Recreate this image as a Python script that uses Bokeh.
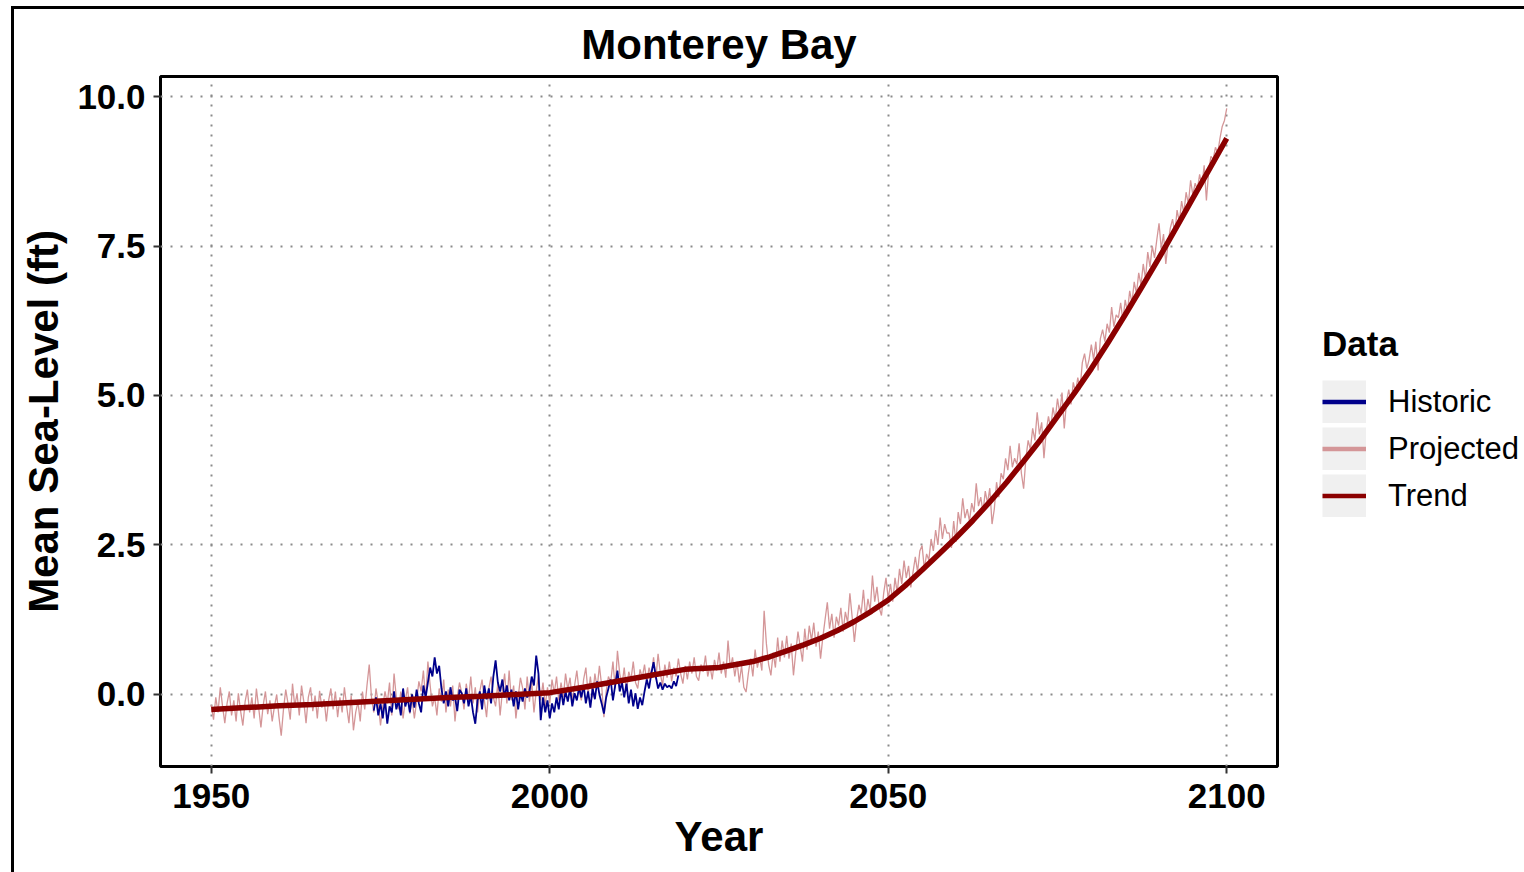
import numpy as np
from bokeh.plotting import figure
from bokeh.layouts import row
from bokeh.models import (Range1d, FixedTicker, NumeralTickFormatter, Legend,
                          LegendItem)
from bokeh.embed import file_html
from bokeh.resources import INLINE

# ---------------------------------------------------------------------------
# Monterey Bay mean sea level (ft)
# ---------------------------------------------------------------------------
SAMPLES_PER_YEAR = 3

# Projected series, three samples per year from 1950.0 to 2100.0
PROJ_START = 1950
projected = [
    -0.18, -0.42, -0.05,  -0.30, 0.12, -0.20,  -0.48, -0.15, 0.05,  -0.35, -0.10, -0.45,
    0.02, -0.28, -0.52,  -0.12, 0.08, -0.30,  -0.05, -0.40, 0.10,  -0.22, -0.55, -0.18,
    0.05, -0.33, -0.10,  -0.45, -0.20, 0.00,  -0.38, -0.69, -0.25,  0.08, -0.15, -0.42,
    0.18, -0.20, 0.02,  -0.35, 0.15, -0.12,  -0.48, -0.05, 0.12,  -0.28, -0.02, -0.40,
    0.06, -0.22, -0.08,  -0.45, -0.10, 0.10,  -0.25, 0.05, -0.38,  -0.05, -0.30, 0.12,
    -0.20, -0.48, -0.02,  -0.60, -0.30, -0.12,  -0.45, 0.05, -0.25,  0.15, 0.50, -0.05,
    -0.30, 0.10, -0.15,  -0.52, -0.20, 0.05,  -0.15, 0.20, -0.35,  0.35, -0.05, -0.25,
    0.05, -0.40, -0.10,  0.12, -0.32, -0.08,  -0.40, -0.12, 0.22,  0.05, 0.40, -0.10,
    0.55, 0.15, -0.20,  -0.05, -0.35, 0.10,  -0.12, 0.25, -0.30,  0.08, -0.20, 0.15,
    -0.45, -0.05, 0.20,  0.02, -0.25, 0.18,  -0.10, 0.30, -0.15,  0.12, -0.30, 0.05,
    0.25, -0.10, -0.38,  0.10, 0.30, -0.05,  -0.20, 0.20, -0.35,  0.05, 0.35, -0.15,
    0.40, -0.10, 0.15,  -0.40, -0.05, 0.28,  0.10, -0.25, 0.30,  -0.12, 0.22, -0.30,
    0.05, 0.32, -0.10,  0.20, -0.20, 0.12,  -0.15, 0.25, 0.02,  0.30, -0.10, 0.20,
    -0.05, 0.35, 0.08,  0.28, -0.12, 0.15,  0.40, 0.05, -0.10,  0.25, 0.45, 0.00,
    0.30, -0.05, 0.35,  0.10, 0.48, 0.15,  -0.38, 0.05, 0.30,  0.20, 0.55, 0.10,
    0.73, 0.35, 0.15,  0.45, 0.05, 0.38,  0.25, 0.55, 0.20,  0.10, 0.42, 0.28,
    0.50, 0.20, 0.45,  0.30, 0.62, 0.25,  0.68, 0.35, 0.15,  0.50, 0.28, 0.55,
    0.22, 0.45, 0.30,  0.60, 0.35, 0.18,  0.48, 0.25, 0.55,  0.35, 0.62, 0.30,
    0.23, 0.50, 0.38,  0.65, 0.30, 0.48,  0.25, 0.58, 0.40,  0.70, 0.35, 0.55,
    0.28, 0.90, 0.45,  0.62, 0.30, 0.55,  0.20, 0.48, 0.12,  0.04, 0.35, 0.60,
    0.30, 0.75, 0.45,  0.62, 0.40, 1.40,  0.85, 0.50, 0.32,  0.70, 0.45, 0.95,
    0.55, 0.90, 0.62,  0.98, 0.60, 0.85,  0.32, 0.70, 1.05,  0.80, 0.55, 1.10,
    0.75, 1.15, 0.90,  1.20, 0.80, 1.05,  0.60, 0.95, 1.25,  1.54, 1.10, 1.35,
    0.95, 1.30, 1.15,  1.45, 1.05, 1.38,  1.20, 1.69, 1.30,  0.88, 1.25, 1.50,
    1.35, 1.75, 1.30,  1.60, 1.40, 1.99,  1.55, 1.80, 1.45,  1.32, 1.70, 1.95,
    1.60, 1.85, 1.55,  1.95, 1.70, 2.10,  1.85, 2.24, 1.95,  2.15, 1.79, 2.05,
    2.30, 2.05, 2.40,  2.49, 2.10, 2.35,  2.25, 2.60, 2.40,  2.75, 2.50, 2.96,
    2.60, 2.85, 2.70,  2.70, 2.45, 2.90,  2.55, 3.05, 2.85,  3.28, 2.95, 3.10,
    2.90, 3.20, 3.05,  3.53, 3.15, 3.30,  3.05, 3.40, 3.20,  3.45, 2.85, 3.10,
    3.55, 3.30, 3.70,  3.60, 3.95, 3.75,  4.16, 3.80, 3.95,  3.85, 4.20, 3.70,
    3.44, 3.95, 4.25,  4.10, 4.45, 4.25,  4.72, 4.35, 4.55,  3.95, 4.40, 4.65,
    4.45, 4.80, 4.60,  4.95, 4.70, 5.05,  4.45, 4.90, 5.10,  4.85, 5.22, 5.05,
    5.30, 5.10, 5.55,  5.70, 5.45, 5.60,  5.85, 5.60, 5.90,  5.42, 5.95, 6.10,
    5.90, 6.20, 6.05,  6.48, 6.15, 6.35,  6.30, 6.55, 6.25,  6.60, 6.40, 6.75,
    6.55, 6.90, 6.70,  7.05, 6.85, 7.20,  6.95, 7.40, 7.15,  7.50, 7.30, 7.60,
    7.88, 7.45, 7.70,  7.20, 7.55, 7.80,  7.95, 7.70, 8.10,  7.90, 8.25, 8.05,
    8.40, 8.20, 8.60,  8.35, 8.55, 8.45,  8.70, 8.50, 8.85,  8.26, 8.75, 9.00,
    8.95, 9.15, 9.05,  9.30, 9.50, 9.60,
    9.80,
]

# Tide-gauge record, three samples per year from 1974.0 to 2019.0
HIST_START = 1974
historic = [
    -0.27, -0.05, -0.35,  -0.15, -0.40, -0.08,  -0.49, -0.20, -0.30,  0.05, -0.25, -0.10,
    -0.35, 0.10, -0.20,  -0.05, -0.30, 0.00,  -0.22, 0.08, -0.15,  -0.30, 0.15, -0.05,
    0.20, 0.45, 0.30,  0.62, 0.35, 0.48,  0.10, -0.15, 0.05,  -0.20, 0.12, -0.10,
    -0.05, -0.28, 0.08,  0.02, -0.15, 0.10,  -0.20, -0.02, -0.30,  -0.49, -0.10, 0.05,
    -0.25, 0.15, -0.08,  0.10, -0.15, 0.30,  0.57, 0.20, 0.05,  0.25, -0.05, 0.15,
    -0.10, 0.08, -0.20,  0.05, -0.25, 0.02,  -0.12, 0.10, -0.05,  0.05, 0.30, 0.15,
    0.65, 0.35, -0.43,  -0.05, -0.30, -0.10,  -0.40, -0.15, -0.30,  -0.05, -0.25, 0.08,
    -0.18, 0.05, -0.12,  0.10, -0.20, 0.02,  -0.10, 0.12, -0.05,  0.15, -0.15, 0.05,
    -0.22, 0.10, -0.08,  0.22, 0.00, -0.15,  -0.32, -0.05, 0.10,  0.25, -0.10, 0.15,
    0.40, 0.05, 0.20,  -0.05, 0.18, -0.15,  0.08, -0.20, 0.02,  -0.24, -0.05, -0.18,
    0.05, 0.25, 0.10,  0.35, 0.54, 0.30,  0.10, 0.20, 0.08,  0.18, 0.12, 0.15,
    0.10, 0.22, 0.14,
    0.32,
]

# Fitted trend
trend_years = [1950, 1955, 1960, 1965, 1970, 1975, 1980, 1985, 1990, 1995,
               2000, 2005, 2010, 2015, 2020, 2025, 2030, 2032.5, 2035, 2037.5,
               2040, 2042.5, 2045, 2047.5, 2050, 2052.5, 2055, 2057.5, 2060,
               2062.5, 2065, 2067.5, 2070, 2072.5, 2075, 2077.5, 2080, 2082.5,
               2085, 2087.5, 2090, 2092.5, 2095, 2097.5, 2100]
trend = [-0.25, -0.22, -0.19, -0.17, -0.14, -0.11, -0.08, -0.05, -0.03, 0.00,
         0.03, 0.12, 0.22, 0.32, 0.42, 0.45, 0.55, 0.63, 0.73, 0.83,
         0.94, 1.07, 1.22, 1.39, 1.58, 1.82, 2.08, 2.35, 2.62,
         2.91, 3.22, 3.55, 3.90, 4.26, 4.65, 5.04, 5.45, 5.89,
         6.35, 6.82, 7.30, 7.80, 8.30, 8.80, 9.30]

x_ticks = [1950, 2000, 2050, 2100]
y_ticks = [0.0, 2.5, 5.0, 7.5, 10.0]

series_names = ["Historic", "Projected", "Trend"]
series_colors = ["#00008B", "#D49698", "#8B0000"]

proj_x = PROJ_START + np.arange(len(projected)) / SAMPLES_PER_YEAR
hist_x = HIST_START + np.arange(len(historic)) / SAMPLES_PER_YEAR

FONT = "Liberation Sans"
HEIGHT = 863

# ---------------------------------------------------------------- main panel
p = figure(
    width=1273, height=HEIGHT,
    x_range=Range1d(1942.5, 2107.5),
    y_range=Range1d(-1.205, 10.335),
    output_backend="svg", toolbar_location=None,
    min_border_left=146, min_border_right=10,
    min_border_top=67, min_border_bottom=106,
    background_fill_color="white", border_fill_color="white",
)

# frame
p.outline_line_color = "black"
p.outline_line_width = 3

# title
p.title.text = "Monterey Bay"
p.title.align = "center"
p.title.text_font = FONT
p.title.text_font_size = "42px"
p.title.text_font_style = "bold"
p.title.text_color = "black"
p.title.standoff = 18

# grid
for g in (p.xgrid, p.ygrid):
    g.grid_line_color = "#8a8a8a"
    g.grid_line_width = 2
    g.grid_line_dash = "2 8"

# axes
p.xaxis.ticker = FixedTicker(ticks=x_ticks)
p.yaxis.ticker = FixedTicker(ticks=y_ticks)
p.yaxis.formatter = NumeralTickFormatter(format="0.0")
p.xaxis.axis_label = "Year"
p.yaxis.axis_label = "Mean Sea-Level (ft)"
for ax in (p.xaxis, p.yaxis):
    ax.axis_line_color = None
    ax.major_tick_line_color = "#333333"
    ax.major_tick_line_width = 2
    ax.major_tick_out = 7
    ax.major_tick_in = 0
    ax.minor_tick_line_color = None
    ax.major_label_text_font = FONT
    ax.major_label_text_font_size = "35px"
    ax.major_label_text_font_style = "bold"
    ax.major_label_text_color = "black"
    ax.axis_label_text_font = FONT
    ax.axis_label_text_font_size = "42px"
    ax.axis_label_text_font_style = "bold"
    ax.axis_label_text_color = "black"
p.xaxis.major_label_standoff = 10
p.xaxis.axis_label_standoff = 2
p.yaxis.major_label_standoff = 8
p.yaxis.axis_label_standoff = 7

# data lines
p.line(proj_x, projected, line_color=series_colors[1], line_width=1.3)
p.line(hist_x, historic, line_color=series_colors[0], line_width=1.8)
p.line(trend_years, trend, line_color=series_colors[2], line_width=5.5)

# -------------------------------------------------------------- legend panel
lp = figure(
    width=237, height=HEIGHT, x_range=Range1d(0, 1), y_range=Range1d(0, 1),
    output_backend="svg", toolbar_location=None,
    min_border=0, outline_line_color=None,
    background_fill_color="white", border_fill_color="white",
)
lp.axis.visible = False
lp.grid.visible = False

# key glyphs: grey key background with a thick coloured stroke on top.
# One-point lines draw nothing in the panel but still give the legend a glyph.
key_bg = lp.line([2], [2], line_color="#F0F0F0", line_width=43, line_cap="butt")
items = []
for name, color in zip(series_names, series_colors):
    key = lp.line([2], [2], line_color=color, line_width=4.5, line_cap="butt")
    items.append(LegendItem(label=name, renderers=[key_bg, key]))

legend = Legend(
    items=items, location=(35, 249),
    title="Data", title_text_font=FONT, title_text_font_size="35px",
    title_text_font_style="bold", title_text_color="black", title_standoff=16,
    label_text_font=FONT, label_text_font_size="31px", label_text_color="black",
    label_standoff=22, glyph_width=44, glyph_height=43, label_height=43,
    spacing=4, padding=0, margin=0,
    border_line_color=None, background_fill_alpha=0,
)
lp.add_layout(legend)

layout = row(p, lp, spacing=0)
layout.styles = {"margin-left": "11px", "margin-top": "6px",
                 "border-left": "3px solid black", "border-top": "3px solid black"}

open("out.html", "w").write(file_html(layout, INLINE))
